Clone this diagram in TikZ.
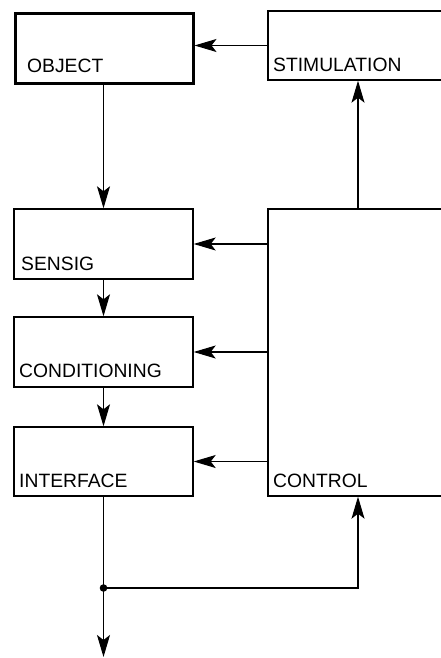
\documentclass[tikz,border=0pt]{standalone}
\usepackage{fontspec}
\setmainfont{Liberation Sans}
\usetikzlibrary{arrows.meta}
\begin{document}
\begin{tikzpicture}[x=1pt,y=-1pt,
  blk/.style={draw, line width=1.4pt, rectangle, inner sep=0pt, minimum width=179pt, minimum height=70pt},
  lbl/.style={anchor=base west, inner sep=0pt, font=\fontsize{19.3}{21}\selectfont},
  conn/.style={line width=1.1pt, -{Stealth[length=22pt,width=13pt,inset=5pt]}},
  wire/.style={line width=1.1pt}]
\useasboundingbox (0,0) rectangle (440,658);
\fill[white] (0,0) rectangle (440,658);
% boxes
\node[blk, line width=3pt, minimum width=178pt] (obj) at (104,49) {};
\node[blk, minimum width=180pt, minimum height=69pt] (stim) at (358,45.5) {};
\node[blk] (sens) at (103.5,244) {};
\node[blk] (cond) at (103.5,352) {};
\node[blk, minimum height=69pt] (intf) at (103.5,461.5) {};
\node[blk, minimum width=180pt, minimum height=287pt] (ctrl) at (358,352.5) {};
% labels
\node[lbl] (tobj) at (27,73) {OBJECT};
\node[lbl] (tstim) at (273,72) {STIMULATION};
\node[lbl] (tsens) at (21,270) {SENSIG};
\node[lbl] (tcond) at (19,377) {CONDITIONING};
\node[lbl] (tintf) at (19,487) {INTERFACE};
\node[lbl] (tctrl) at (273,487) {CONTROL};
% connectors
\draw[conn] (stim.west) -- (obj.east |- stim.west);
\draw[conn] (obj.south -| sens.north) -- (sens.north);
\draw[conn] (sens.south) -- (cond.north);
\draw[conn] (cond.south) -- (intf.north);
\draw[conn] (ctrl.west |- sens.east) -- (sens.east);
\draw[conn] (ctrl.west |- cond.east) -- (cond.east);
\draw[conn] (ctrl.west |- intf.east) -- (intf.east);
\draw[conn] (ctrl.north) -- (stim.south);
\coordinate (j) at (103.5,588);
\coordinate (out) at (103.5,657);
\draw[wire] (intf.south) -- (j);
\draw[conn] (j) -- (out);
\draw[conn] (j) -- (ctrl.south |- j) -- (ctrl.south);
\fill (j) circle (3.8pt);
\end{tikzpicture}
\end{document}
